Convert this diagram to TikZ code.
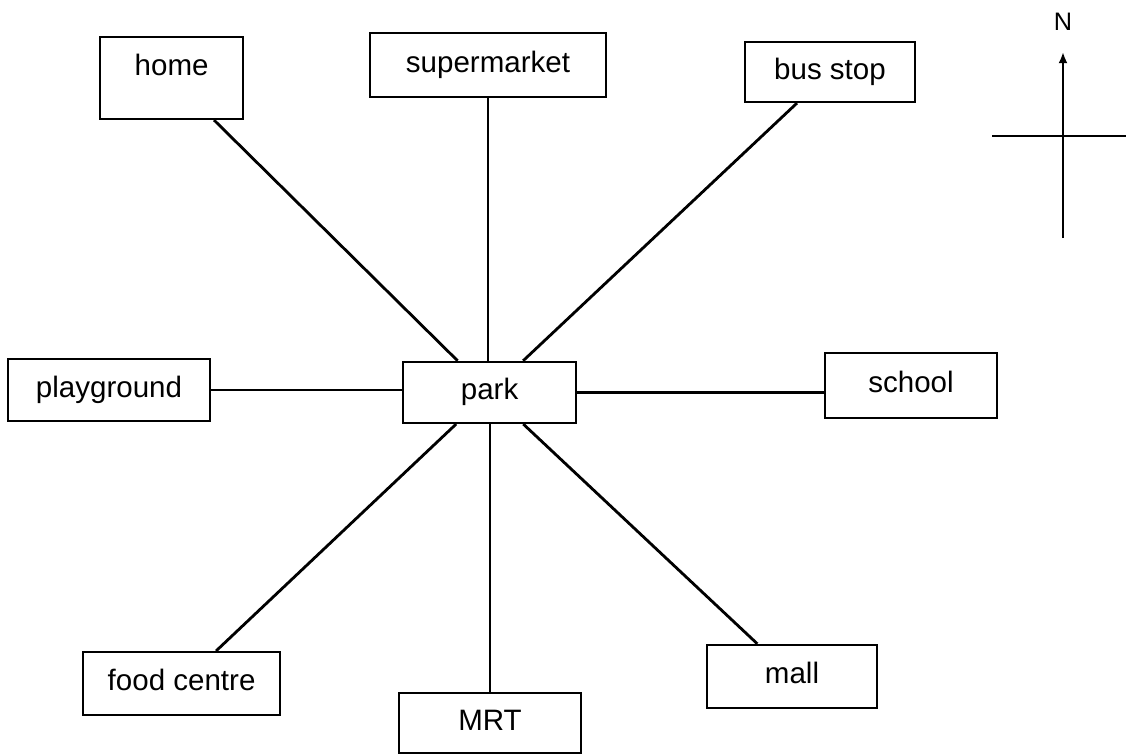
\documentclass[tikz,border=0pt]{standalone}
\usepackage{fontspec}
\setmainfont{Liberation Sans}
\usepackage{tikz}
\usetikzlibrary{arrows.meta}

\tikzset{
  spot/.style={draw, line width=1.6pt, rectangle, inner sep=0pt,
    font=\fontsize{21}{25}\selectfont, text height=15pt, text depth=4.5pt},
  road/.style={line width=2pt}
}

\begin{document}
\begin{tikzpicture}
    \useasboundingbox (0,0) rectangle (28.225,-18.875) ;
    \node[spot, minimum width=3.575cm, minimum height=2.05cm, text depth=18.7pt] at (4.29,-1.95) (home) {home} ;
    \node[spot, minimum width=5.9cm, minimum height=1.6cm] at (12.2,-1.625) (super) {supermarket} ;
    \node[spot, minimum width=4.25cm, minimum height=1.5cm] at (20.75,-1.8) (bus) {bus stop} ;
    \node[spot, minimum width=5.05cm, minimum height=1.55cm] at (2.725,-9.75) (play) {playground} ;
    \node[spot, minimum width=4.325cm, minimum height=1.525cm] at (12.24,-9.81) (park) {park} ;
    \node[spot, minimum width=4.3cm, minimum height=1.625cm] at (22.775,-9.64) (school) {school} ;
    \node[spot, minimum width=4.925cm, minimum height=1.575cm] at (4.54,-17.09) (food) {food centre} ;
    \node[spot, minimum width=4.55cm, minimum height=1.5cm] at (12.25,-18.075) (mrt) {MRT} ;
    \node[spot, minimum width=4.25cm, minimum height=1.575cm] at (19.8,-16.91) (mall) {mall} ;
    \draw[road] (home) -- (park) ;
    \draw[road] (super) -- (super |- park.north) ;
    \draw[road] (bus) -- (park) ;
    \draw[road] (play.east) -- (play.east -| park.west) ;
    \draw[road] (park.east) -- (park.east -| school.west) ;
    \draw[road] (park) -- (food) ;
    \draw[road] (park.south -| mrt) -- (mrt) ;
    \draw[road] (park) -- (mall) ;
    \node[font=\fontsize{18}{21}\selectfont, inner sep=0pt] at (26.575,-0.55) (north) {N} ;
    \coordinate (cs) at (26.575,-5.95) ;
    \coordinate (cn) at (26.575,-1.3) ;
    \coordinate (cw) at (24.8,-3.4) ;
    \coordinate (ce) at (28.15,-3.4) ;
    \draw[line width=1.6pt, -{Latex[length=8pt,width=6.5pt]}] (cs) -- (cn) ;
    \draw[line width=1.6pt] (cw) -- (ce) ;
  \end{tikzpicture}
\end{document}
